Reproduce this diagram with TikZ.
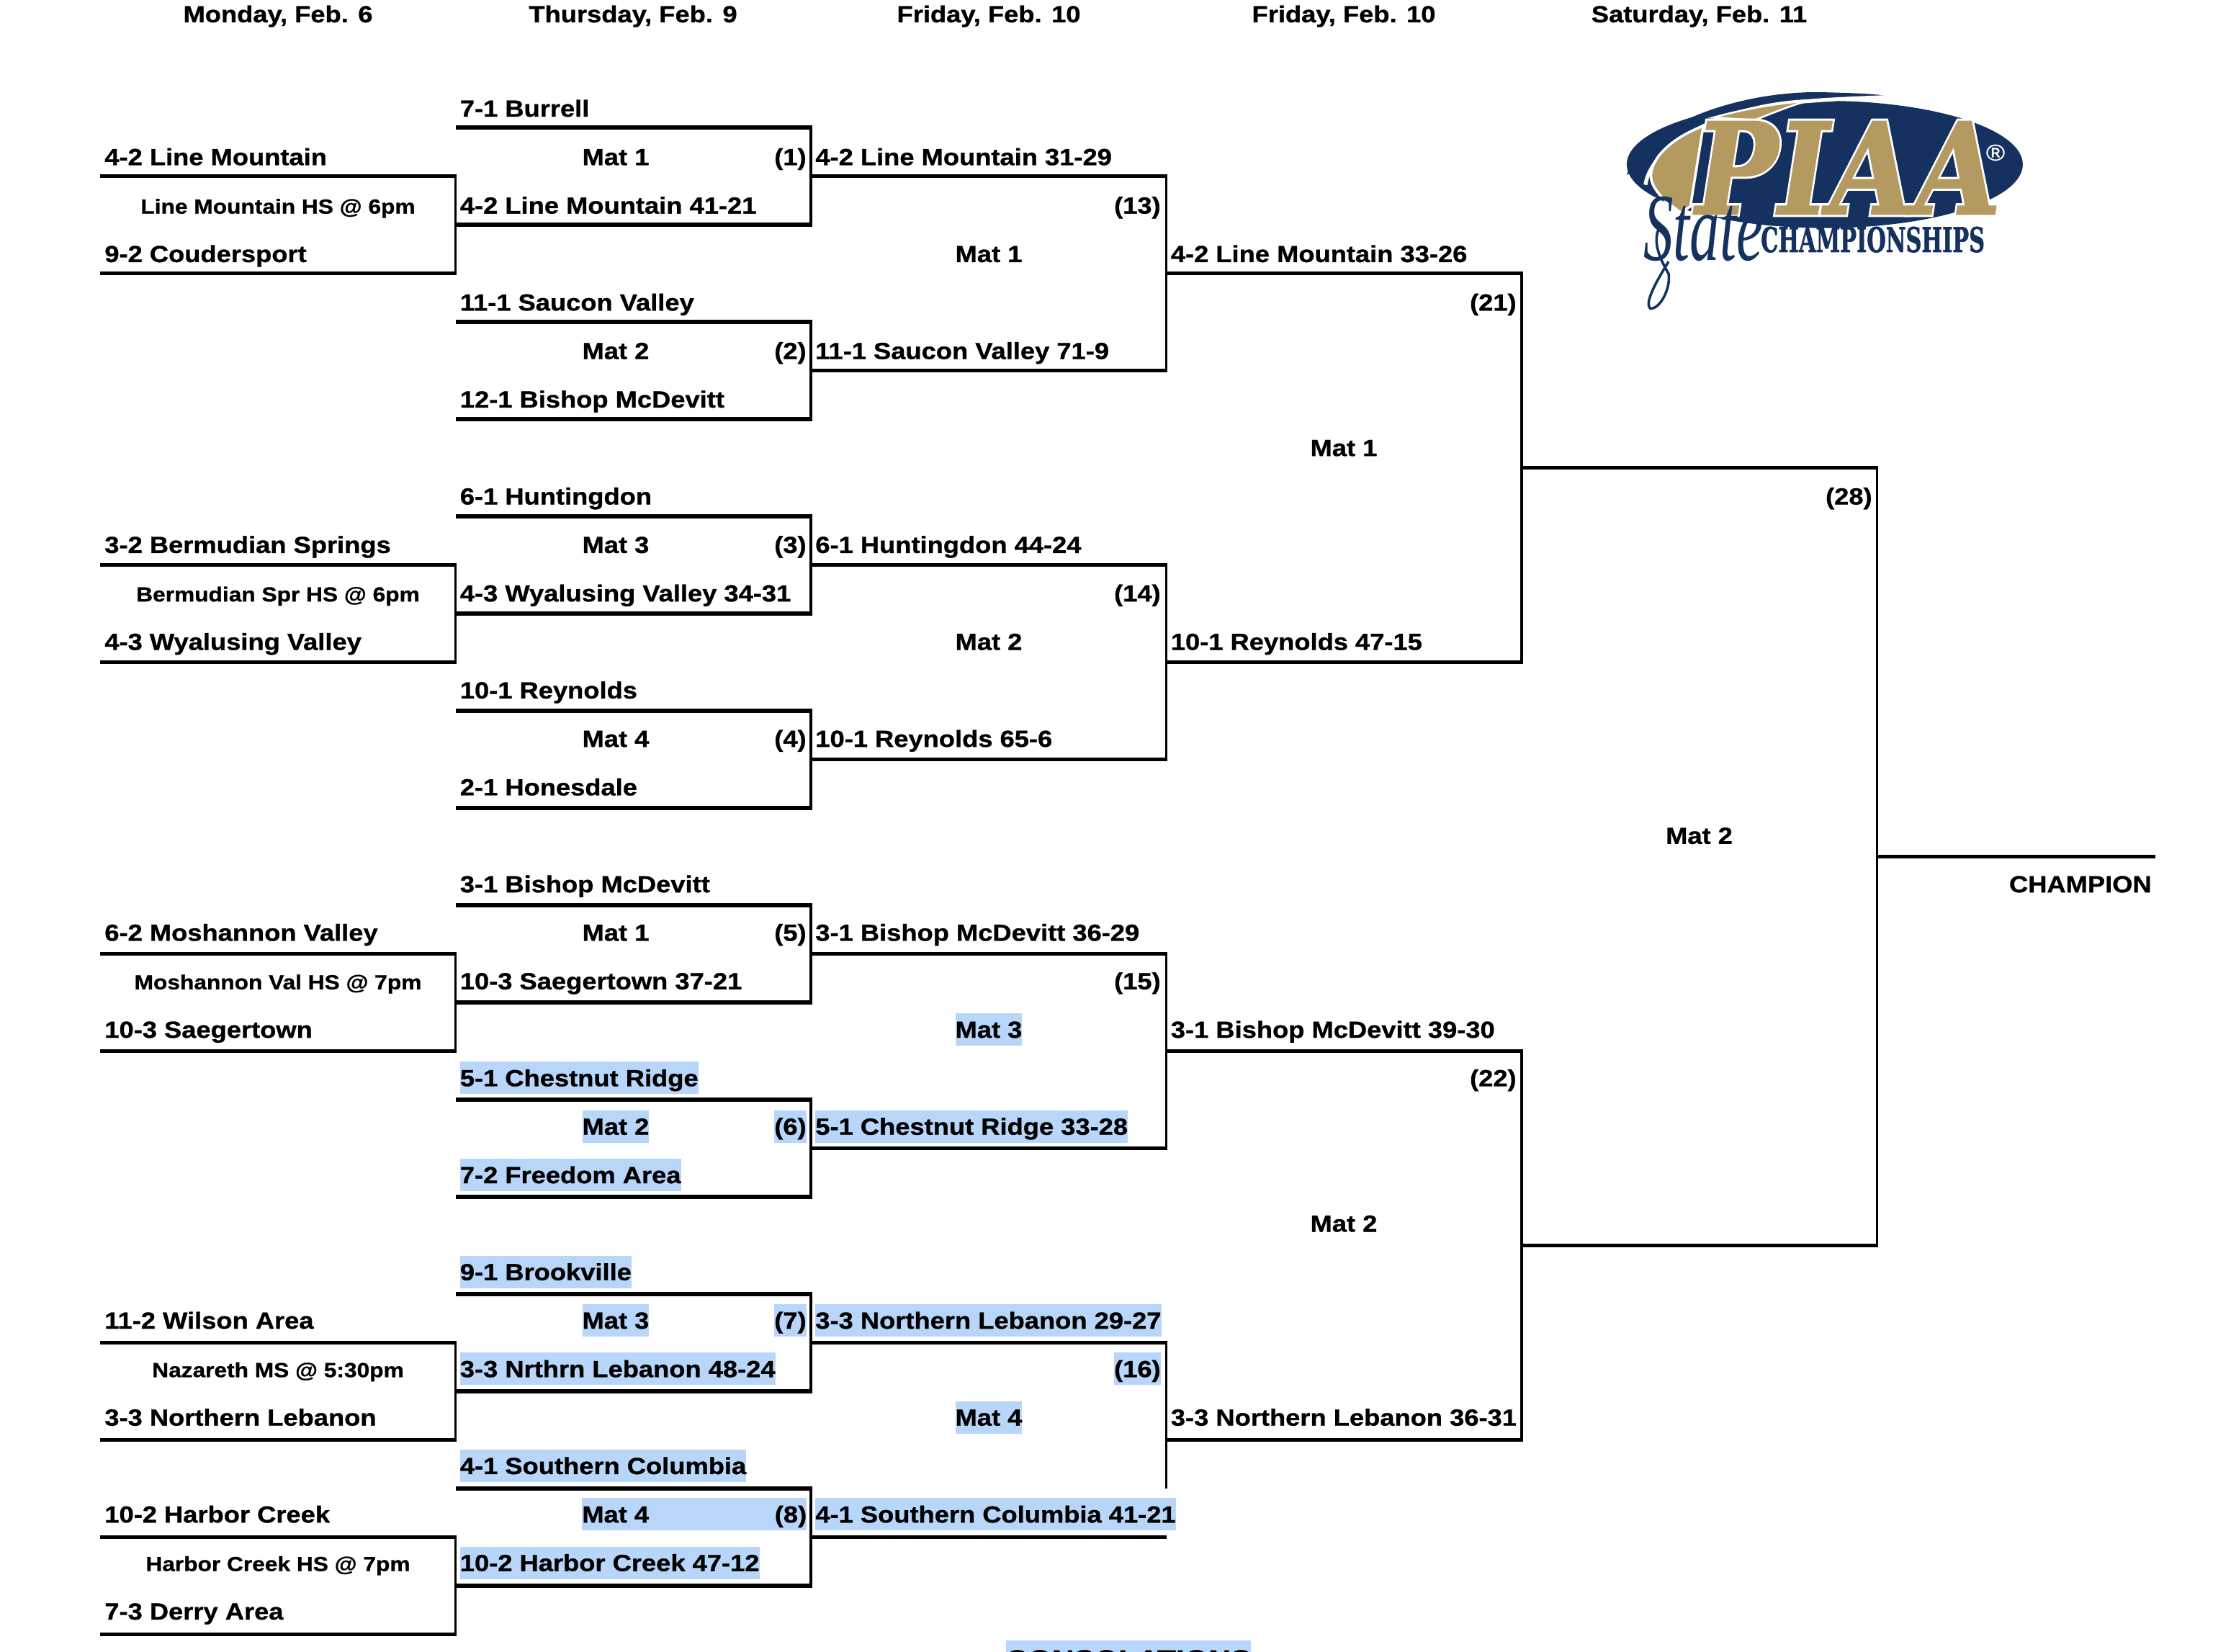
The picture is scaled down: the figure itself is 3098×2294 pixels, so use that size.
\documentclass[tikz,border=0pt]{standalone}
\usepackage{fontspec}
\setmainfont{Liberation Sans}[FakeStretch=1.12,FakeBold=0.9]
\newfontfamily\logofont{DejaVu Serif}[FakeBold=1.5]
\newfontfamily\logowhite{DejaVu Serif}[FakeBold=5]
\newfontfamily\statefont{Liberation Serif}
\definecolor{hlblue}{HTML}{B7D6F9}
\definecolor{logoblue}{HTML}{14315F}
\definecolor{logogold}{HTML}{B49A60}
\newcommand{\teamfont}{\fontsize{18.45}{20}\selectfont\bfseries}
\newcommand{\sitefont}{\fontsize{16.1}{18}\selectfont\bfseries}
\tikzset{
team/.style={anchor=base west,inner sep=0pt,text height=19.3pt,text depth=6.2pt,font=\teamfont},
hl/.style={fill=hlblue},
hrule/.style={line width=5.4*0.569pt},
vrule/.style={line width=3.8*0.569pt},
}

\begin{document}
\begin{tikzpicture}[x=0.02cm,y=-0.02cm]
\useasboundingbox (0,0) rectangle (3098,2294);

% headings
\foreach \x/\s in {386/{Monday, Feb. 6},879/{Thursday, Feb. 9},1373/{Friday, Feb. 10},1866/{Friday, Feb. 10},2359.5/{Saturday, Feb. 11}} {
\node[team,anchor=base] (day\x) at (\x,31) {\s};
}

% brackets, x of the right side, first and last row
\foreach \x/\a/\b in {632.5/1/3,632.5/9/11,632.5/17/19,632.5/25/27,632.5/29/31,
1126/0/2,1126/4/6,1126/8/10,1126/12/14,1126/16/18,1126/20/22,1126/24/26,1126/28/30,
1619.5/1/5,1619.5/9/13,1619.5/17/21,
2113/3/11,2113/19/27,
2606.5/7/23} {
\draw[hrule] (\x-493.5,177+67.5*\a) -- (\x+1.5,177+67.5*\a);
\draw[hrule] (\x-493.5,177+67.5*\b) -- (\x+1.5,177+67.5*\b);
\draw[vrule] (\x,177+67.5*\a) -- (\x,177+67.5*\b);
}
\draw[hrule] (1126,177+67.5*25) -- (1621,177+67.5*25);
\draw[hrule] (1126,177+67.5*29) -- (1619.5,177+67.5*29);
\draw[vrule] (1619.5,177+67.5*25) -- (1619.5,177+67.5*28);
\draw[hrule] (2606.5,1189.5) -- (2993,1189.5);

% first column
\foreach \i/\s in {1/4-2 Line Mountain,3/9-2 Coudersport,9/3-2 Bermudian Springs,11/4-3 Wyalusing Valley,
17/6-2 Moshannon Valley,19/10-3 Saegertown,25/11-2 Wilson Area,27/3-3 Northern Lebanon,
29/10-2 Harbor Creek,31/7-3 Derry Area} {
\node[team] (first\i) at (145,162+67.32*\i) {\s};
}
\foreach \i/\s in {2/Line Mountain HS @ 6pm,10/Bermudian Spr HS @ 6pm,18/Moshannon Val HS @ 7pm,
26/Nazareth MS @ 5:30pm,30/Harbor Creek HS @ 7pm} {
\node[team,anchor=base,font=\sitefont] (site\i) at (386,162+67.32*\i) {\s};
}

% second column
\foreach \i/\s in {0/7-1 Burrell,2/4-2 Line Mountain 41-21,4/11-1 Saucon Valley,6/12-1 Bishop McDevitt,
8/6-1 Huntingdon,10/4-3 Wyalusing Valley 34-31,12/10-1 Reynolds,14/2-1 Honesdale,
16/3-1 Bishop McDevitt,18/10-3 Saegertown 37-21} {
\node[team] (second\i) at (638.5,162+67.32*\i) {\s};
}
\foreach \i/\s in {20/5-1 Chestnut Ridge,22/7-2 Freedom Area,24/9-1 Brookville,
26/3-3 Nrthrn Lebanon 48-24,28/4-1 Southern Columbia,30/10-2 Harbor Creek 47-12} {
\node[team,hl] (second\i) at (638.5,162+67.32*\i) {\s};
}

% third column
\foreach \i/\s in {1/4-2 Line Mountain 31-29,5/11-1 Saucon Valley 71-9,9/6-1 Huntingdon 44-24,
13/10-1 Reynolds 65-6,17/3-1 Bishop McDevitt 36-29} {
\node[team] (third\i) at (1132,162+67.32*\i) {\s};
}
\foreach \i/\s in {21/5-1 Chestnut Ridge 33-28,25/3-3 Northern Lebanon 29-27,29/4-1 Southern Columbia 41-21} {
\node[team,hl] (third\i) at (1132,162+67.32*\i) {\s};
}

% fourth column
\foreach \i/\s in {3/4-2 Line Mountain 33-26,11/10-1 Reynolds 47-15,19/3-1 Bishop McDevitt 39-30,27/3-3 Northern Lebanon 36-31} {
\node[team] (fourth\i) at (1625.5,162+67.32*\i) {\s};
}

% mats
\foreach \x/\i/\s in {855/1/Mat 1,855/5/Mat 2,855/9/Mat 3,855/13/Mat 4,855/17/Mat 1,
1373/3/Mat 1,1373/11/Mat 2,1866/7/Mat 1,1866/23/Mat 2,2359.5/15/Mat 2} {
\node[team,anchor=base] (mat\x-\i) at (\x,162+67.32*\i) {\s};
}
\foreach \x/\i/\s in {855/21/Mat 2,855/25/Mat 3,1373/19/Mat 3,1373/27/Mat 4} {
\node[team,hl,anchor=base] (mat\x-\i) at (\x,162+67.32*\i) {\s};
}
\node[team,hl] (mat855-29) at (808,162+67.32*29) {\makebox[177.5pt]{Mat 4\hfill(8)}};

% match numbers
\foreach \x/\i/\s in {1120/1/1,1120/5/2,1120/9/3,1120/13/4,1120/17/5,
1612/2/13,1612/10/14,1612/18/15,2106/4/21,2106/20/22,2600/8/28} {
\node[team,anchor=base east] (num\s) at (\x,162+67.32*\i) {(\s)};
}
\foreach \x/\i/\s in {1120/21/6,1120/25/7,1612/26/16} {
\node[team,hl,anchor=base east] (num\s) at (\x,162+67.32*\i) {(\s)};
}

\node[team,anchor=base east] (champ) at (2988,162+67.32*16) {CHAMPION};
\node[hl,anchor=base,inner xsep=0pt,inner ysep=0pt,text height=22.5pt,text depth=7pt,font=\fontsize{21.7}{24}\selectfont\bfseries] (consol) at (1567,2318) {CONSOLATIONS};

% logo
\begin{scope}[shift={(2200,100)},xscale=.4464,yscale=.3333]
\fill[logoblue] (748,385) ellipse [x radius=616,y radius=265];
\fill[logoblue] (132,430) .. controls (170,230) and (480,70) .. (760,85) .. controls (850,88) and (920,92) .. (945,102) .. controls (700,100) and (400,150) .. (132,430) -- cycle;
\draw[white,line width=3pt] (190,470) .. controls (210,300) and (430,140) .. (690,122) .. controls (780,112) and (870,108) .. (945,104);
\fill[logogold,draw=white,line width=2pt] (207,430) .. controls (210,350) and (280,270) .. (370,225) -- (330,560) -- (300,585) .. controls (240,530) and (207,480) .. (207,430) -- cycle;
\fill[logogold,draw=white,line width=1.5pt] (400,190) .. controls (480,160) and (590,130) .. (690,122) .. controls (620,150) and (570,180) .. (530,200) -- cycle;
\draw[logoblue,line width=2pt] (238,640) .. controls (205,700) and (240,790) .. (262,840) .. controls (270,900) and (235,990) .. (205,985) .. controls (185,960) and (230,860) .. (262,790);
\end{scope}
\node[inner sep=0pt,anchor=base,white,xscale=.87,xslant=.18,transform shape,font=\logowhite\fontsize{100}{100}\selectfont\bfseries] (piaaback) at (2556,297) {PIAA};
\node[inner sep=0pt,anchor=base,logogold,xscale=.87,xslant=.18,transform shape,font=\logofont\fontsize{100}{100}\selectfont\bfseries] (piaa) at (2556,297) {PIAA};
\node[inner sep=0pt,white,font=\fontsize{18}{18}\selectfont] (reg) at (2771,212) {\textregistered};
\node[inner sep=0pt,anchor=base west,logoblue,xscale=.64,transform shape,font=\logofont\fontsize{27}{27}\selectfont\bfseries] (champs) at (2445,350) {CHAMPIONSHIPS};
\node[inner sep=0pt,anchor=base west,logoblue,xscale=.62,transform shape,font=\statefont\fontsize{76}{76}\selectfont\itshape] (state) at (2282,362) {State};
\end{tikzpicture}
\end{document}
